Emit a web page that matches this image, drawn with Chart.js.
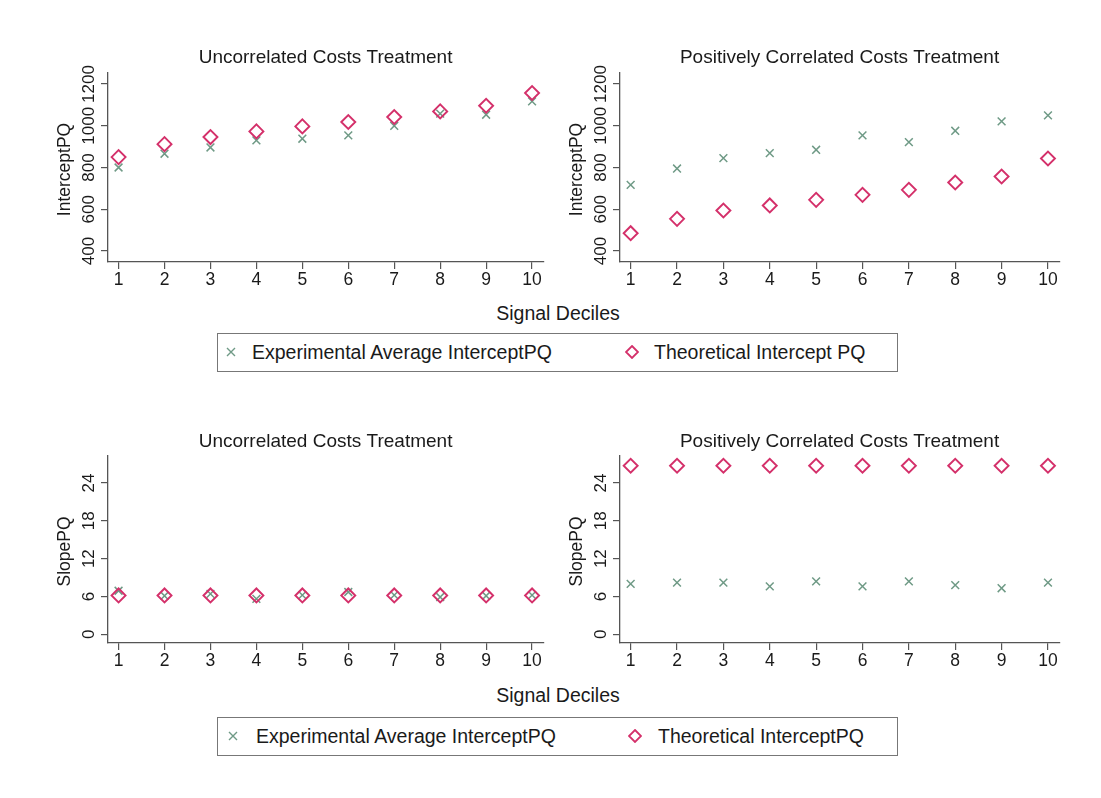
<!DOCTYPE html>
<html>
<head>
<meta charset="utf-8">
<script src="https://cdn.jsdelivr.net/npm/chart.js@4.4.0/dist/chart.umd.min.js"></script>
<style>
  body { margin: 0; background: #fff; font-family: "Liberation Sans", Arial, sans-serif; color: #1a1a1a; }
  #wrap { position: relative; width: 1101px; height: 798px; overflow: hidden; }
  canvas { position: absolute; }
  .xtitle { position: absolute; left: 0; width: 1116px; text-align: center; font-size: 19.5px; line-height: 22px; }
  .legend { position: absolute; left: 217px; width: 681px; height: 39px; border: 1px solid #777; box-sizing: border-box; }
  .legend span { position: absolute; top: 7px; font-size: 19.5px; line-height: 22px; white-space: nowrap; }
  .legend svg { position: absolute; top: 12px; }
</style>
</head>
<body>
<div id="wrap">
  <canvas id="tl" width="552" height="260" style="left:0; top:40px"></canvas>
  <canvas id="tr" width="556" height="260" style="left:512px; top:40px"></canvas>
  <canvas id="bl" width="552" height="261" style="left:0; top:420px"></canvas>
  <canvas id="br" width="556" height="261" style="left:512px; top:420px"></canvas>

  <div class="xtitle" style="top:302px">Signal Deciles</div>
  <div class="legend" style="top:333px">
    <svg width="12" height="12" style="left:7px"><path d="M2 2 L10 10 M10 2 L2 10" stroke="#6f9a86" stroke-width="1.4"/></svg>
    <span style="left:34px">Experimental Average InterceptPQ</span>
    <svg width="14" height="14" style="left:407px; top:11px"><path d="M7 1 L13 7 L7 13 L1 7 Z" fill="none" stroke="#d4306a" stroke-width="1.8"/></svg>
    <span style="left:436px">Theoretical Intercept PQ</span>
  </div>

  <div class="xtitle" style="top:684px">Signal Deciles</div>
  <div class="legend" style="top:717px">
    <svg width="12" height="12" style="left:9px"><path d="M2 2 L10 10 M10 2 L2 10" stroke="#6f9a86" stroke-width="1.4"/></svg>
    <span style="left:38px">Experimental Average InterceptPQ</span>
    <svg width="14" height="14" style="left:410px; top:11px"><path d="M7 1 L13 7 L7 13 L1 7 Z" fill="none" stroke="#d4306a" stroke-width="1.8"/></svg>
    <span style="left:440px">Theoretical InterceptPQ</span>
  </div>
</div>

<script>
// deciles on the x axis
const deciles = [1, 2, 3, 4, 5, 6, 7, 8, 9, 10];
const yTicksIntercept = [400, 600, 800, 1000, 1200];
const yTicksSlope = [0, 6, 12, 18, 24];

// intercept, uncorrelated costs
const uncorrInterceptExp = [800, 866, 896, 930, 938, 954, 1000, 1058, 1053, 1117];
const uncorrInterceptTheory = [850, 912, 946, 973, 997, 1018, 1042, 1069, 1096, 1157];
// intercept, positively correlated costs
const posInterceptExp = [717, 795, 845, 869, 885, 954, 922, 976, 1021, 1050];
const posInterceptTheory = [485, 554, 594, 618, 645, 669, 693, 728, 757, 843];
// slope, uncorrelated costs
const uncorrSlopeExp = [6.9, 6.1, 6.4, 5.6, 6.2, 6.7, 6.2, 5.9, 6.1, 6.2];
const uncorrSlopeTheory = [6.15, 6.15, 6.15, 6.15, 6.15, 6.15, 6.15, 6.15, 6.15, 6.15];
// slope, positively correlated costs
const posSlopeExp = [8.0, 8.2, 8.2, 7.6, 8.4, 7.6, 8.4, 7.8, 7.3, 8.2];
const posSlopeTheory = [26.75, 26.75, 26.75, 26.75, 26.75, 26.75, 26.75, 26.75, 26.75, 26.75];

const green = '#6f9a86';
const red = '#d4306a';
const axisColor = '#555';
const textColor = '#1a1a1a';
const font = '"Liberation Sans", Arial, sans-serif';

// Stata style: vertical y tick labels and y title
const yLabels = {
  id: 'yLabels',
  afterDraw(chart, args, opts) {
    const { ctx, chartArea } = chart;
    const y = chart.scales.y;
    ctx.save();
    ctx.fillStyle = textColor;
    ctx.textAlign = 'center';
    ctx.textBaseline = 'middle';
    ctx.font = '17px ' + font;
    y.ticks.forEach(t => {
      ctx.save();
      ctx.translate(chartArea.left - 19, y.getPixelForValue(t.value));
      ctx.rotate(-Math.PI / 2);
      ctx.fillText(String(t.value), 0, 0);
      ctx.restore();
    });
    ctx.font = '17.5px ' + font;
    ctx.translate(chartArea.left - 43, (chartArea.top + chartArea.bottom) / 2 + 2);
    ctx.rotate(-Math.PI / 2);
    ctx.fillText(opts.text, 0, 0);
    ctx.restore();
  }
};

function toPoints(vals) {
  return vals.map((v, i) => ({ x: deciles[i], y: v }));
}

function makePanel(id, title, yTitle, yTicks, yMin, yMax, expVals, theoryVals, titlePad) {
  new Chart(document.getElementById(id), {
    type: 'scatter',
    data: {
      datasets: [
        {
          label: 'Theoretical',
          data: toPoints(theoryVals),
          pointStyle: 'rectRot',
          pointRadius: 7,
          pointBorderWidth: 1.9,
          borderColor: red,
          backgroundColor: 'rgba(0,0,0,0)',
          order: 0
        },
        {
          label: 'Experimental',
          data: toPoints(expVals),
          pointStyle: 'crossRot',
          pointRadius: 5.5,
          pointBorderWidth: 1.5,
          borderColor: green,
          backgroundColor: green,
          order: 1
        }
      ]
    },
    options: {
      responsive: false,
      animation: false,
      devicePixelRatio: 1,
      layout: { padding: { left: 0, right: 2, top: 0, bottom: 0 } },
      plugins: {
        legend: { display: false },
        tooltip: { enabled: false },
        title: {
          display: true,
          text: title,
          fullSize: false,
          color: textColor,
          font: { family: font, size: 19, weight: 'normal', lineHeight: 1.2 },
          padding: titlePad
        },
        yLabels: { text: yTitle }
      },
      scales: {
        x: {
          type: 'linear',
          min: 0.77,
          max: 10.24,
          afterBuildTicks: s => { s.ticks = deciles.map(v => ({ value: v })); },
          afterFit: s => { s.height = 38; },
          grid: { display: true, drawOnChartArea: false, drawTicks: true, tickLength: 7, color: axisColor, lineWidth: 1.2 },
          border: { display: true, color: axisColor, width: 1.3 },
          ticks: { color: textColor, font: { family: font, size: 17.5 }, padding: 1, maxRotation: 0 }
        },
        y: {
          min: yMin,
          max: yMax,
          afterBuildTicks: s => { s.ticks = yTicks.map(v => ({ value: v })); },
          afterFit: s => { s.width = 108; },
          grid: { display: true, drawOnChartArea: false, drawTicks: true, tickLength: 7, color: axisColor, lineWidth: 1.2 },
          border: { display: true, color: axisColor, width: 1.3 },
          ticks: { display: false }
        }
      }
    },
    plugins: [yLabels]
  });
}

const topPad = { top: 6.6, bottom: 3.6 };
const bottomPad = { top: 10.6, bottom: 2.6 };

makePanel('tl', 'Uncorrelated Costs Treatment', 'InterceptPQ', yTicksIntercept, 347, 1253,
  uncorrInterceptExp, uncorrInterceptTheory, topPad);
makePanel('tr', 'Positively Correlated Costs Treatment', 'InterceptPQ', yTicksIntercept, 347, 1253,
  posInterceptExp, posInterceptTheory, topPad);
makePanel('bl', 'Uncorrelated Costs Treatment', 'SlopePQ', yTicksSlope, -1.4, 28.3,
  uncorrSlopeExp, uncorrSlopeTheory, bottomPad);
makePanel('br', 'Positively Correlated Costs Treatment', 'SlopePQ', yTicksSlope, -1.4, 28.3,
  posSlopeExp, posSlopeTheory, bottomPad);
</script>
</body>
</html>
